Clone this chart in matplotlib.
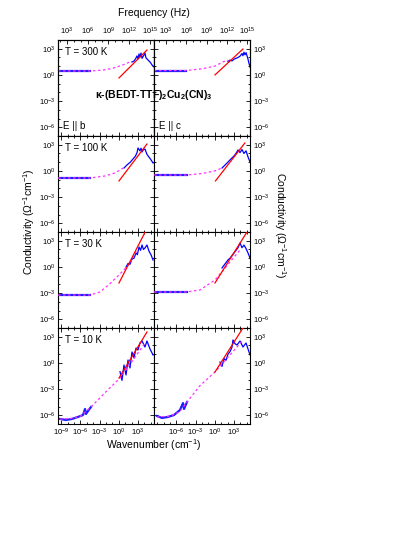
import matplotlib
matplotlib.use('Agg')
import matplotlib.pyplot as plt
import numpy as np
from matplotlib.ticker import FixedLocator, LogFormatterSciNotation, NullFormatter

plt.rcParams['font.family'] = ['Liberation Sans', 'DejaVu Sans']
plt.rcParams['mathtext.default'] = 'regular'

temps = ['T = 300 K', 'T = 100 K', 'T = 30 K', 'T = 10 K']
pol_labels = ['E || b', 'E || c']

# all values are log10(wavenumber / cm^-1) and log10(sigma / Ohm^-1 cm^-1)
# low-frequency (dc / dielectric) data, blue
low_x_b = [[-9.5, -4.5], [-9.5, -4.5], [-9.5, -4.5],
           [-9.19, -8.25, -7.31, -6.38, -5.59, -5.28, -5.13, -4.81, -4.34]]
low_y_b = [[0.45, 0.45], [-0.81, -0.81], [-3.22, -3.22],
           [-6.42, -6.54, -6.42, -6.19, -5.97, -5.28, -5.85, -5.51, -5.05]]
low_x_c = [[-9.5, -4.5], [-9.5, -4.4], [-9.5, -4.4],
           [-9.03, -8.25, -7.31, -6.38, -5.44, -4.97, -4.81, -4.34]]
low_y_c = [[0.5, 0.5], [-0.47, -0.47], [-2.87, -2.87],
           [-6.08, -6.31, -6.19, -5.97, -5.4, -4.6, -5.28, -4.48]]

# fit curves, magenta dashed
fit_x_b = [[-9.5, -4.5, -2.5, -1.0, 0.5, 1.8],
           [-9.5, -4.5, -2.16, -0.6, 0.97],
           [-9.5, -4.5, -2.94, -1.5, -0.28, 1.0, 1.75, 2.84],
           [-9.19, -7.3, -6.0, -4.34, -2.0, 0.19, 2.0, 4.09]]
fit_y_b = [[0.45, 0.45, 0.55, 0.75, 1.1, 1.5],
           [-0.81, -0.81, -0.58, -0.24, 0.45],
           [-3.22, -3.22, -2.87, -2.0, -1.15, -0.2, 0.45, 1.94],
           [-6.45, -6.35, -6.1, -5.05, -3.3, -1.73, 0.1, 2.28]]
fit_x_c = [[-9.5, -4.5, -2.0, 0.0, 1.3, 2.1],
           [-9.5, -4.4, -2.0, 0.0, 1.13],
           [-9.5, -4.4, -2.31, 0.03, 1.6, 3.94],
           [-9.03, -7.0, -5.5, -4.34, -2.31, 0.03, 2.0, 4.4]]
fit_y_c = [[0.5, 0.5, 0.7, 1.0, 1.5, 1.7],
           [-0.47, -0.47, -0.3, 0.0, 0.33],
           [-2.87, -2.87, -2.64, -1.5, -0.12, 1.94],
           [-6.2, -6.1, -5.6, -4.48, -2.6, -1.04, 0.6, 2.6]]

# optical data, blue
opt_x_b = [[2.06, 2.38, 2.69, 2.84, 3.0, 3.16, 3.31, 3.47, 3.63, 3.94, 4.09, 4.25, 4.56, 4.88, 5.19, 5.5],
           [0.81, 1.3, 1.8, 2.2, 2.6, 2.85, 3.0, 3.3, 3.47, 3.63, 3.8, 4.09, 4.4, 4.7, 5.0, 5.35],
           [1.13, 1.45, 1.75, 2.06, 2.38, 2.69, 2.9, 3.16, 3.4, 3.63, 3.85, 4.09, 4.4, 4.72, 5.03, 5.35],
           [0.19, 0.5, 0.81, 1.13, 1.44, 1.75, 2.06, 2.38, 2.69, 3.0, 3.31, 3.63, 4.09, 4.4, 4.88, 5.35]]
opt_y_b = [[1.48, 1.59, 1.94, 2.17, 1.82, 2.40, 2.05, 2.51, 1.9, 2.28, 2.51, 1.95, 1.71, 1.48, 1.14, 0.91],
           [0.33, 0.7, 1.0, 1.35, 1.7, 2.1, 2.63, 2.3, 2.6, 2.17, 2.4, 2.51, 1.9, 1.6, 1.3, 0.91],
           [-0.01, 0.4, 0.3, 0.9, 1.0, 1.6, 1.4, 2.28, 1.9, 2.51, 2.0, 2.17, 2.51, 1.8, 1.4, 0.79],
           [-1.0, -2.0, -0.24, -1.38, 0.33, -0.58, 1.25, 0.56, 1.71, 1.48, 2.28, 2.51, 1.82, 2.51, 1.59, 0.91]]
opt_x_c = [[2.06, 2.38, 2.69, 3.0, 3.31, 3.63, 3.94, 4.25, 4.4, 4.56, 4.72, 4.88, 5.03, 5.19, 5.35, 5.5],
           [1.13, 1.5, 1.9, 2.3, 2.7, 3.0, 3.3, 3.63, 3.94, 4.25, 4.56, 4.88, 5.19, 5.5],
           [1.13, 1.45, 1.75, 2.06, 2.38, 2.69, 3.0, 3.31, 3.63, 3.94, 4.25, 4.56, 4.88, 5.19, 5.5],
           [0.81, 1.13, 1.44, 1.75, 2.06, 2.38, 2.69, 2.84, 3.16, 3.47, 3.94, 4.4, 4.88, 5.5]]
opt_y_c = [[1.55, 1.7, 1.6, 1.8, 1.9, 2.0, 2.15, 2.45, 2.2, 2.6, 2.3, 2.55, 2.2, 1.8, 1.3, 0.9],
           [0.33, 0.6, 0.9, 1.2, 1.5, 1.7, 2.0, 2.4, 2.1, 2.45, 2.0, 2.3, 1.6, 1.02],
           [-0.12, 0.2, 0.5, 0.8, 1.0, 1.3, 1.6, 1.9, 2.2, 2.74, 2.2, 2.5, 2.1, 1.6, 1.02],
           [0.1, -0.4, 0.5, 0.3, 1.0, 1.3, 1.8, 2.63, 2.2, 2.05, 2.51, 1.82, 2.28, 0.91]]

# power-law lines, red
pl_x_b = [[0.03, 4.4], [0.03, 4.4], [0.03, 4.4], [0.03, 4.4]]
pl_y_b = [[-0.35, 2.85], [-1.15, 3.08], [-1.84, 4.4], [-1.73, 3.54]]
pl_x_c = [[0.03, 4.4], [0.1, 4.7], [0.03, 5.03], [0.03, 4.4]]
pl_y_c = [[0.0, 2.97], [-1.15, 3.2], [-1.84, 4.0], [-1.04, 4.0]]

xticks_wn = [1e-9, 1e-6, 1e-3, 1e0, 1e3]
xticks_hz = [1e3, 1e6, 1e9, 1e12, 1e15]
yticks = [1e-6, 1e-3, 1e0, 1e3]
# frequency-axis range (log10 Hz) for the b and c columns
hz_lim = [(1.7, 15.58), (1.22, 15.44)]

W, H = 415, 537
fig = plt.figure(figsize=(W / 100, H / 100), dpi=100)

x0, pw = 58, 96
y0, ph = 40, 96

data = {
    0: (low_x_b, low_y_b, fit_x_b, fit_y_b, opt_x_b, opt_y_b, pl_x_b, pl_y_b),
    1: (low_x_c, low_y_c, fit_x_c, fit_y_c, opt_x_c, opt_y_c, pl_x_c, pl_y_c),
}


def style_ticks(axis_obj, **kw):
    axis_obj.tick_params(which='both', direction='in', width=0.6, labelsize=5.5, pad=2, **kw)
    axis_obj.tick_params(which='major', length=3)
    axis_obj.tick_params(which='minor', length=1.5)


for r in range(4):
    for c in range(2):
        left = (x0 + c * pw) / W
        bottom = 1 - (y0 + (r + 1) * ph) / H
        ax = fig.add_axes([left, bottom, pw / W, ph / H])
        lx, ly, fx, fy, ox, oy, px, py = data[c]
        p = lambda v: 10.0 ** np.array(v)
        ax.plot(p(lx[r]), p(ly[r]), color='#1f1fff', lw=1.6, zorder=2)
        ax.plot(p(fx[r]), p(fy[r]), color='#ff33ff', lw=0.9, ls=(0, (2, 2)), zorder=3)
        ax.plot(p(ox[r]), p(oy[r]), color='#0000ff', lw=0.9, zorder=2)
        ax.plot(p(px[r]), p(py[r]), color='red', lw=0.9, zorder=4)

        ax.set_xscale('log')
        ax.set_yscale('log')
        ax.set_xlim(10 ** -9.5, 10 ** 5.5)
        ax.set_ylim(1e-7, 1e4)
        ax.xaxis.set_major_locator(FixedLocator(xticks_wn if not (r == 3 and c == 1) else xticks_wn[1:]))
        ax.xaxis.set_minor_locator(FixedLocator(10.0 ** np.arange(-10, 7)))
        ax.yaxis.set_major_locator(FixedLocator(yticks))
        ax.yaxis.set_minor_locator(FixedLocator(10.0 ** np.arange(-8, 6)))
        ax.xaxis.set_major_formatter(LogFormatterSciNotation())
        ax.yaxis.set_major_formatter(LogFormatterSciNotation())
        ax.xaxis.set_minor_formatter(NullFormatter())
        ax.yaxis.set_minor_formatter(NullFormatter())
        style_ticks(ax, top=(r > 0), right=True, left=True, bottom=True)
        ax.tick_params(labelbottom=(r == 3), labelleft=(c == 0), labelright=(c == 1))
        for s in ax.spines.values():
            s.set_linewidth(0.8)

        if c == 0:
            ax.text(0.07, 0.875, temps[r], transform=ax.transAxes, fontsize=7, va='center')
        if r == 0:
            ax.text(0.05, 0.1, pol_labels[c], transform=ax.transAxes, fontsize=7, va='center')
            top = ax.twiny()
            top.set_xscale('log')
            top.set_xlim(10 ** hz_lim[c][0], 10 ** hz_lim[c][1])
            top.xaxis.set_major_locator(FixedLocator(xticks_hz))
            top.xaxis.set_minor_locator(FixedLocator(10.0 ** np.arange(0, 18)))
            top.xaxis.set_major_formatter(LogFormatterSciNotation())
            top.xaxis.set_minor_formatter(NullFormatter())
            style_ticks(top)
            for s in top.spines.values():
                s.set_linewidth(0.8)

mid = (x0 + pw) / W
fig.text(mid, 1 - 95 / H, r'$\kappa$-(BEDT-TTF)$_2$Cu$_2$(CN)$_3$', fontsize=7.5,
         fontweight='bold', ha='center', va='center')
fig.text(mid, 1 - 13 / H, 'Frequency (Hz)', fontsize=7.5, ha='center', va='center')
fig.text(mid, 1 - 445 / H, r'Wavenumber (cm$^{-1}$)', fontsize=7.5, ha='center', va='center')
fig.text(29 / W, 1 - 222 / H, r'Conductivity ($\Omega^{-1}$cm$^{-1}$)', fontsize=7.5,
         rotation=90, ha='center', va='center')
fig.text(280 / W, 1 - 225 / H, r'Conductivity ($\Omega^{-1}$cm$^{-1}$)', fontsize=7.5,
         rotation=-90, ha='center', va='center')

fig.savefig('out.png', dpi=100)
